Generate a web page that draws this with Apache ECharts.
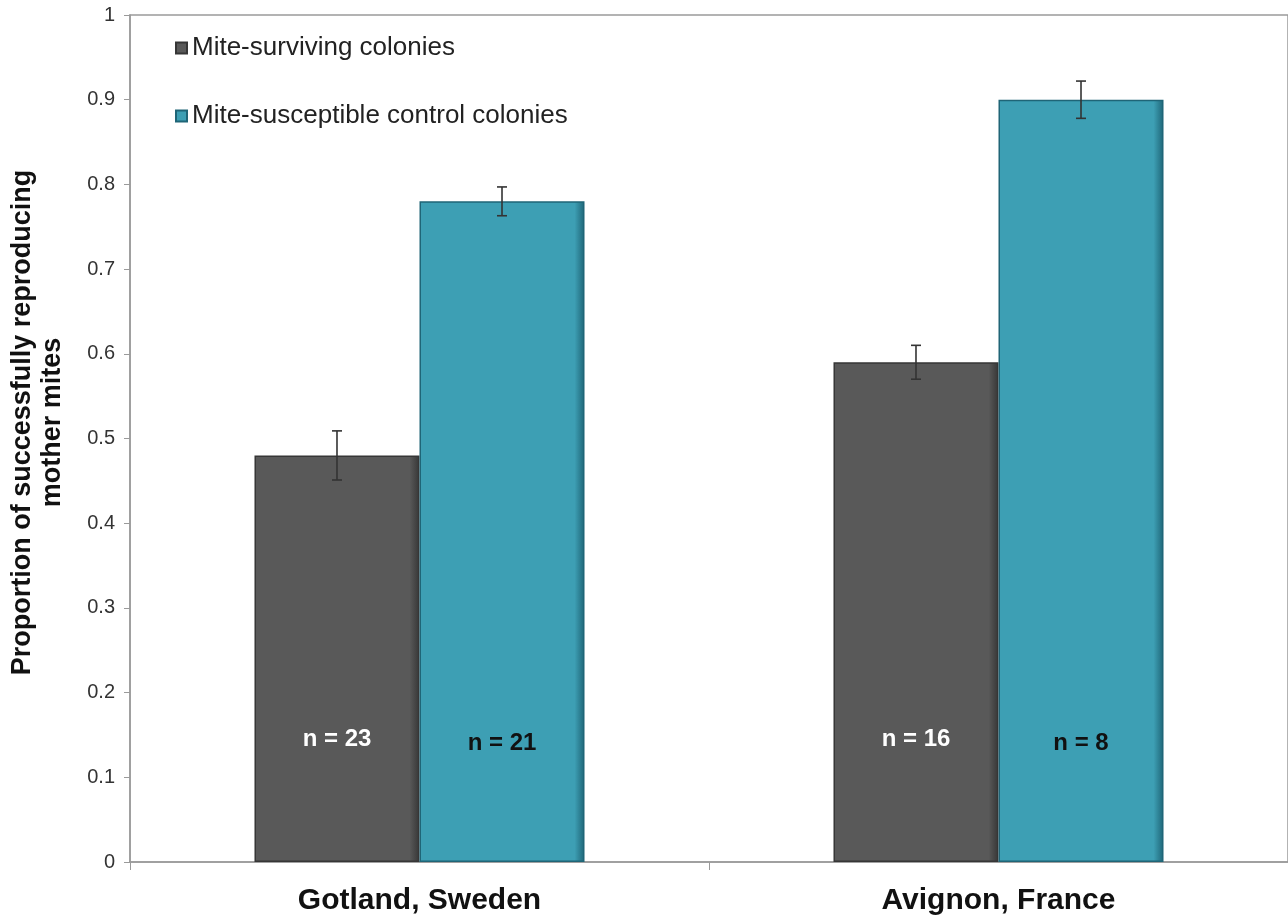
<!DOCTYPE html>
<html><head><meta charset="utf-8">
<script src="https://cdn.jsdelivr.net/npm/echarts@6/dist/echarts.min.js"></script>
<style>html,body{margin:0;padding:0;background:#fff}#c{width:1288px;height:918px}</style>
</head><body><div id="c"></div>
<script>
const categories = ['Gotland, Sweden', 'Avignon, France'];
const seriesNames = ['Mite-surviving colonies', 'Mite-susceptible control colonies'];
const survivingValues = [0.48, 0.59];
const survivingErrors = [0.029, 0.020];
const susceptibleValues = [0.78, 0.90];
const susceptibleErrors = [0.017, 0.022];
const survivingN = [23, 16];
const susceptibleN = [21, 8];
const nLabelLevel = [0.145, 0.145];
const yTicks = [0, 0.1, 0.2, 0.3, 0.4, 0.5, 0.6, 0.7, 0.8, 0.9, 1];

const CAT_GAP = 0.43;
const FONT = 'Liberation Sans, Arial, sans-serif';
const chart = echarts.init(document.getElementById('c'));

function errorSeries(values, errors, side) {
  return {
    type: 'custom',
    z: 10,
    data: values.map((v, i) => [i, v, errors[i]]),
    renderItem: function (params, api) {
      const i = api.value(0), v = api.value(1), e = api.value(2);
      const catW = api.size([1, 0])[0];
      const bw = catW * (1 - CAT_GAP) / 2;
      const hi = api.coord([i, v + e]);
      const lo = api.coord([i, v - e]);
      const x = hi[0] + side * bw / 2;
      const cap = 5;
      const st = { stroke: '#333', lineWidth: 1.6 };
      return { type: 'group', children: [
        { type: 'line', shape: { x1: x, y1: hi[1], x2: x, y2: lo[1] }, style: st },
        { type: 'line', shape: { x1: x - cap, y1: hi[1], x2: x + cap, y2: hi[1] }, style: st },
        { type: 'line', shape: { x1: x - cap, y1: lo[1], x2: x + cap, y2: lo[1] }, style: st }
      ]};
    }
  };
}

function nLabelSeries(ns, side, color) {
  return {
    type: 'custom',
    z: 11,
    data: ns.map((n, i) => [i, nLabelLevel[i], n]),
    renderItem: function (params, api) {
      const i = api.value(0);
      const catW = api.size([1, 0])[0];
      const bw = catW * (1 - CAT_GAP) / 2;
      const p = api.coord([i, api.value(1)]);
      return { type: 'text', x: p[0] + side * bw / 2, y: p[1] + (side > 0 ? 4 : 0),
        style: { text: 'n = ' + api.value(2), fill: color, font: 'bold 24px ' + FONT,
          align: 'center', verticalAlign: 'middle' } };
    }
  };
}

function barStyle(base, edge) {
  return {
    color: new echarts.graphic.LinearGradient(0, 0, 1, 0, [
      { offset: 0, color: base }, { offset: 0.94, color: base }, { offset: 1, color: edge }
    ]),
    borderColor: edge, borderWidth: 1.5
  };
}

chart.setOption({
  animation: false,
  backgroundColor: '#fff',
  grid: { left: 130, right: 0, top: 15, bottom: 56, show: true, borderColor: '#9a9a9a', borderWidth: 1.5,
    backgroundColor: 'transparent', containLabel: false, outerBoundsMode: 'none' },
  legend: {
    orient: 'vertical', left: 170, top: 30, itemGap: 42, itemWidth: 11, itemHeight: 11,
    icon: 'rect',
    textStyle: { fontSize: 26, color: '#222', fontFamily: FONT },
    data: seriesNames
  },
  xAxis: {
    type: 'category', data: categories,
    axisLine: { lineStyle: { color: '#9a9a9a', width: 1.5 } },
    axisTick: { show: true, length: 8, lineStyle: { color: '#9a9a9a' } },
    axisLabel: { fontSize: 30, fontWeight: 'bold', color: '#111', margin: 24, fontFamily: FONT }
  },
  yAxis: {
    type: 'value', min: 0, max: 1, interval: 0.1,
    name: 'Proportion of successfully reproducing\nmother mites',
    nameLocation: 'middle', nameGap: 62,
    nameTextStyle: { fontSize: 27, fontWeight: 'bold', color: '#111', lineHeight: 30, fontFamily: FONT, padding: [0, 0, 0, 32] },
    axisLine: { show: true, lineStyle: { color: '#9a9a9a', width: 1.5 } },
    axisTick: { show: true, length: 6, lineStyle: { color: '#9a9a9a' } },
    splitLine: { show: false },
    axisLabel: { fontSize: 20, color: '#333', margin: 15, fontFamily: FONT,
      formatter: v => { const t = yTicks.find(x => Math.abs(x - v) < 1e-9); return (t === 0 || t === 1) ? String(t) : t.toFixed(1); } }
  },
  series: [
    { name: seriesNames[0], type: 'bar', data: survivingValues, barGap: '0%', barCategoryGap: (CAT_GAP * 100) + '%',
      itemStyle: barStyle('#595959', '#363636') },
    { name: seriesNames[1], type: 'bar', data: susceptibleValues, barGap: '0%', barCategoryGap: (CAT_GAP * 100) + '%',
      itemStyle: barStyle('#3d9fb4', '#1f6577') },
    errorSeries(survivingValues, survivingErrors, -1),
    errorSeries(susceptibleValues, susceptibleErrors, 1),
    nLabelSeries(survivingN, -1, '#ffffff'),
    nLabelSeries(susceptibleN, 1, '#111111')
  ]
});
</script></body></html>
